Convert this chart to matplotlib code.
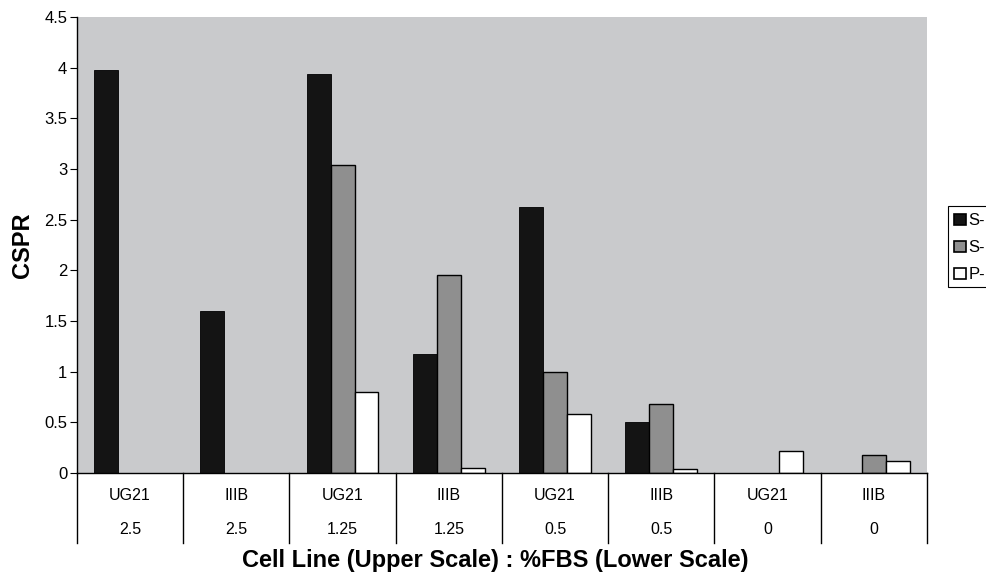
import matplotlib.pyplot as plt
import numpy as np
from matplotlib.patches import Rectangle, Patch

plt.rcParams['font.family'] = ['Liberation Sans', 'DejaVu Sans']

cell_lines = ["UG21", "IIIB", "UG21", "IIIB", "UG21", "IIIB", "UG21", "IIIB"]
fbs = ["2.5", "2.5", "1.25", "1.25", "0.5", "0.5", "0", "0"]
series_names = ["S-", "S-", "P-"]
s1 = [3.98, 1.60, 3.94, 1.17, 2.62, 0.50, 0.00, 0.00]
s2 = [0.00, 0.00, 3.04, 1.95, 1.00, 0.68, 0.00, 0.18]
p1 = [0.00, 0.00, 0.80, 0.05, 0.58, 0.04, 0.22, 0.12]
colors = ["#141414", "#8f8f8f", "#ffffff"]

fig = plt.figure(figsize=(9.87, 5.78), dpi=100)
ax = fig.add_axes([0.078, 0.1817, 0.861, 0.7889])
ax.set_facecolor("#c9cacc")

x = np.arange(len(cell_lines))
w = 0.225
handles = []
for i, (vals, c) in enumerate(zip([s1, s2, p1], colors)):
    vals = np.array(vals)
    lw = np.where(vals > 0, 1.0 if i > 0 else 0.6, 0.0)
    ax.bar(x + (i - 1) * w, vals, width=w, color=c, edgecolor="#000000", linewidth=lw)
    handles.append(Patch(facecolor=c, edgecolor="black", linewidth=1.2))

ax.set_xlim(-0.5, len(cell_lines) - 0.5)
ax.set_ylim(0, 4.5)
ax.set_yticks(np.arange(0, 4.51, 0.5))
ax.set_yticklabels(["0", "0.5", "1", "1.5", "2", "2.5", "3", "3.5", "4", "4.5"])
ax.tick_params(axis="y", direction="out", length=5, labelsize=12, pad=2)
ax.set_xticks([])
for s in ["top", "right"]:
    ax.spines[s].set_visible(False)
ax.spines["left"].set_linewidth(1.0)
ax.spines["bottom"].set_linewidth(1.0)

# table under the axis
trans = ax.get_xaxis_transform()
for b in np.arange(-0.5, len(cell_lines), 1.0):
    ax.plot([b, b], [0, -0.1535], transform=trans, color="black", lw=1.0, clip_on=False)
for xi, cl, f in zip(x, cell_lines, fbs):
    ax.text(xi, -0.05, cl, transform=trans, ha="center", va="center", fontsize=11.5)
    ax.text(xi, -0.125, f, transform=trans, ha="center", va="center", fontsize=11.5)

fig.text(23 / 987, 1 - 245 / 578, "CSPR", rotation=90, ha="center", va="center",
         fontsize=17, fontweight="bold")
fig.text(495 / 987, 1 - 561 / 578, "Cell Line (Upper Scale) : %FBS (Lower Scale)",
         ha="center", va="center", fontsize=17, fontweight="bold")

# legend, cut off at the right edge like the reference
fig.patches.append(Rectangle((948 / 987, 1 - 287 / 578), 0.1, 81 / 578,
                             transform=fig.transFigure, facecolor="white",
                             edgecolor="black", linewidth=0.8))
leg = fig.legend(handles=handles, labels=series_names, loc="upper left",
                 bbox_to_anchor=(951 / 987, 1 - 210 / 578), fontsize=12,
                 frameon=False, handlelength=0.7, handleheight=0.7,
                 handletextpad=0.15, borderpad=0.2, labelspacing=0.72,
                 borderaxespad=0)

fig.savefig("out.png", dpi=100)
